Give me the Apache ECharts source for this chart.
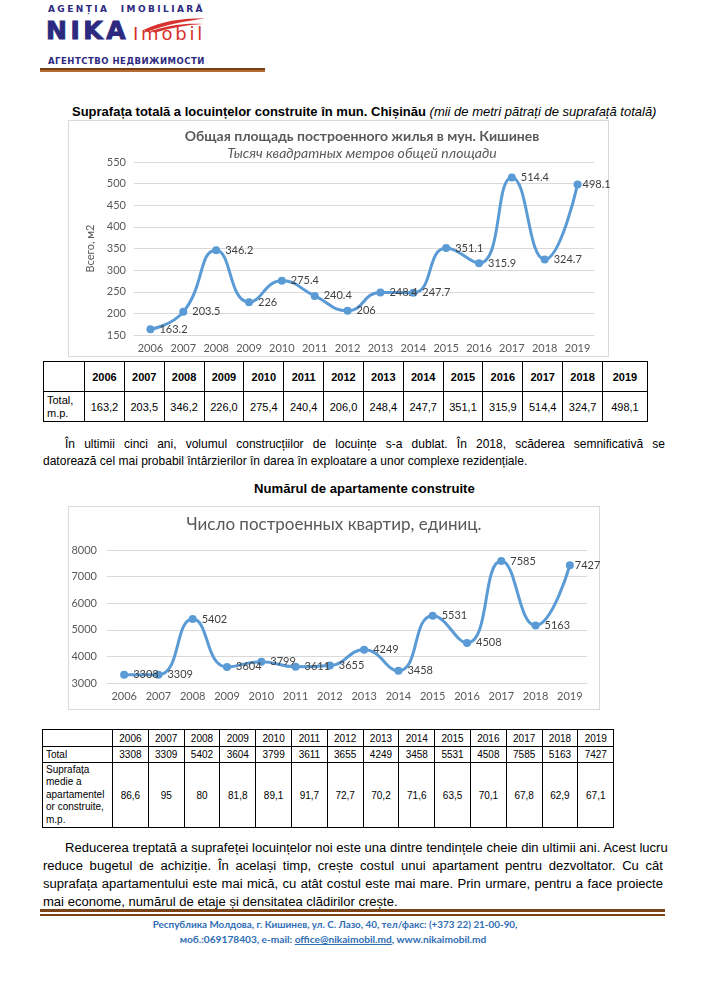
<!DOCTYPE html>
<html><head><meta charset="utf-8">
<script src="https://cdn.jsdelivr.net/npm/echarts@6/dist/echarts.min.js"></script>
<style>
html,body{margin:0;padding:0;background:#fff;}
body{width:707px;height:1000px;position:relative;overflow:hidden;font-family:"Liberation Sans",Arial,sans-serif;color:#000;}
.abs{position:absolute;white-space:nowrap;}
.navy{color:#2C2A80;}
.box{position:absolute;border:1px solid #D9D9D9;box-sizing:border-box;background:#fff;}
.chart{position:absolute;}
table{position:absolute;border-collapse:collapse;table-layout:fixed;}
td{border:1.3px solid #000;text-align:center;padding:0;vertical-align:middle;}
.para{position:absolute;left:43px;width:622px;font-size:12px;}
.para div{white-space:nowrap;text-align:justify;text-align-last:justify;}
.para div.last{text-align:left;text-align-last:left;}
.foot{position:absolute;font-family:Lato,"Open Sans",sans-serif;font-weight:bold;color:#2F6DB5;font-size:10px;white-space:nowrap;}
</style></head><body>

<!-- logo -->
<div class="abs navy fitls" data-w="157" style="left:48px;top:4px;font:bold 9px 'DejaVu Sans';word-spacing:6px;">AGENȚIA IMOBILIARĂ</div>
<div class="abs navy fitls" data-w="83" style="left:46px;top:16px;font:bold 25px 'DejaVu Sans';-webkit-text-stroke:1px #2C2A80;">NIKA</div>
<svg class="abs" style="left:141px;top:15px" width="68" height="18" viewBox="0 0 70 18">
  <path d="M3 15 C20 6 42 3 66 3 C45 6 25 10 6 17 Z" fill="#D6312D"/>
  <path d="M12 16 C28 10 46 8 64 9 C46 10 30 13 14 18 Z" fill="#D6312D"/>
</svg>
<div class="abs fitls" data-w="72" style="left:133px;top:23px;font:18px 'DejaVu Sans';color:#D6312D;">Imobil</div>
<div class="abs navy fitls" data-w="157" style="left:48px;top:56px;font:bold 8.5px 'DejaVu Sans';">АГЕНТСТВО НЕДВИЖИМОСТИ</div>
<div class="abs" style="left:40px;top:68px;width:225px;height:2px;background:#7A3E12;"></div>
<div class="abs" style="left:40px;top:70px;width:225px;height:2px;background:#B36D35;"></div>

<!-- heading 1 -->
<div class="abs fit" data-w="585" style="left:72px;top:104px;font-size:12px;"><b>Suprafața totală a locuințelor construite în mun. Chișinău</b> <i>(mii de metri pătrați de suprafață totală)</i></div>

<div class="box" style="left:68px;top:120px;width:541px;height:237px;"></div>
<div class="chart" id="c1" style="left:68px;top:120px;width:570px;height:237px;"></div>

<table id="t1" style="left:43px;top:361px;width:604px;font-size:11px;"></table>

<div class="para" id="p1" style="top:436px;line-height:17px;">
<div style="padding-left:22px;">În ultimii cinci ani, volumul construcțiilor de locuințe s-a dublat. În 2018, scăderea semnificativă se</div>
<div class="last" data-w="485">datorează cel mai probabil întârzierilor în darea în exploatare a unor complexe rezidențiale.</div>
</div>

<div class="abs fit" data-w="221" style="left:254px;top:481px;font-size:12px;font-weight:bold;">Numărul de apartamente construite</div>

<div class="box" style="left:68px;top:506px;width:532px;height:204px;"></div>
<div class="chart" id="c2" style="left:68px;top:506px;width:560px;height:204px;"></div>

<table id="t2" style="left:42px;top:729px;width:571px;font-size:10px;"></table>

<div class="para" id="p2" style="top:839px;line-height:18px;width:620px;">
<div style="padding-left:22px;">Reducerea treptată a suprafeței locuințelor noi este una dintre tendințele cheie din ultimii ani. Acest lucru</div>
<div>reduce bugetul de achiziție. În același timp, crește costul unui apartament pentru dezvoltator. Cu cât</div>
<div>suprafața apartamentului este mai mică, cu atât costul este mai mare. Prin urmare, pentru a face proiecte</div>
<div class="last" data-w="355">mai econome, numărul de etaje și densitatea clădirilor crește.</div>
</div>

<div class="abs" style="left:40px;top:909px;width:625px;height:3px;background:#7B4318;"></div>
<div class="abs" style="left:40px;top:914px;width:625px;height:1.5px;background:#7B4318;"></div>

<div class="foot fit" data-w="365" data-c="335" style="top:918px;">Республика Молдова, г. Кишинев, ул. С. Лазо, 40, тел/факс: (+373 22) 21-00-90,</div>
<div class="foot fit" data-w="307" data-c="333" style="top:933px;">моб.:069178403, e-mail: <u>office@nikaimobil.md</u>, www.nikaimobil.md</div>

<script>
// ---- data ----
const years = ['2006','2007','2008','2009','2010','2011','2012','2013','2014','2015','2016','2017','2018','2019'];
const totalArea = [163.2,203.5,346.2,226.0,275.4,240.4,206.0,248.4,247.7,351.1,315.9,514.4,324.7,498.1];
const flatsBuilt = [3308,3309,5402,3604,3799,3611,3655,4249,3458,5531,4508,7585,5163,7427];
const avgFlatArea = [86.6,95,80,81.8,89.1,91.7,72.7,70.2,71.6,63.5,70.1,67.8,62.9,67.1];

// ---- text fitting (layout only) ----
document.querySelectorAll('.fit').forEach(el=>{
  const w = +el.dataset.w;
  el.style.display='inline-block';
  const nw = el.getBoundingClientRect().width;
  const fs = parseFloat(getComputedStyle(el).fontSize);
  el.style.fontSize = (fs*w/nw)+'px';
  if (el.dataset.c) el.style.left = (+el.dataset.c - el.getBoundingClientRect().width/2)+'px';
});
document.querySelectorAll('.fitls').forEach(el=>{
  const w = +el.dataset.w;
  el.style.display='inline-block';
  const nw = el.getBoundingClientRect().width;
  const n = el.textContent.length;
  el.style.letterSpacing = ((w-nw)/n)+'px';
});
['p1','p2'].forEach(id=>{
  const p=document.getElementById(id);
  const last=p.querySelector('.last');
  const s=document.createElement('span');
  s.textContent=last.textContent; s.style.whiteSpace='nowrap';
  s.style.fontSize=getComputedStyle(p).fontSize;
  document.body.appendChild(s);
  const nw=s.getBoundingClientRect().width; s.remove();
  p.style.fontSize=(parseFloat(getComputedStyle(p).fontSize)*(+last.dataset.w)/nw)+'px';
});

// ---- tables ----
const fmt1 = v => v.toFixed(1).replace('.',',');
const fmt = v => String(v).replace('.',',');
(function(){
  const t=document.getElementById('t1');
  let h='<colgroup><col style="width:41px">'+years.map((y,i)=>'<col style="width:'+(i===years.length-1?45:39.85)+'px">').join('')+'</colgroup>';
  h+='<tr style="height:30px"><td></td>'+years.map(y=>'<td style="font-weight:bold">'+y+'</td>').join('')+'</tr>';
  h+='<tr style="height:30px"><td style="text-align:left;padding-left:3px;line-height:13px">Total,<br>m.p.</td>'+totalArea.map(v=>'<td>'+fmt1(v)+'</td>').join('')+'</tr>';
  t.innerHTML=h;
  const t2=document.getElementById('t2');
  let g='<colgroup><col style="width:70px">'+years.map(()=>'<col style="width:35.8px">').join('')+'</colgroup>';
  g+='<tr style="height:17px"><td></td>'+years.map(y=>'<td>'+y+'</td>').join('')+'</tr>';
  g+='<tr style="height:16px"><td style="text-align:left;padding-left:3px">Total</td>'+flatsBuilt.map(v=>'<td>'+v+'</td>').join('')+'</tr>';
  g+='<tr style="height:65px"><td style="text-align:left;padding-left:3px;line-height:12.5px">Suprafața<br>medie a<br>apartamentel<br>or construite,<br>m.p.</td>'+avgFlatArea.map(v=>'<td>'+fmt(v)+'</td>').join('')+'</tr>';
  t2.innerHTML=g;
})();

// ---- charts ----
const FF = 'Lato, "Open Sans", sans-serif';
const lineColor = '#5B9BD5';
function seriesOf(values){
  const last = values.length-1;
  return {
    type:'line', smooth:0.5, symbol:'circle', symbolSize:8,
    data: values.map((v,i)=> i===last ? {value:v, label:{distance:1}} : v),
    lineStyle:{color:lineColor,width:3}, itemStyle:{color:lineColor},
    label:{show:true, position:'right', distance:5, fontFamily:FF, fontSize:11, color:'#404040'}
  };
}
function xAxisOf(){
  return {type:'category', data:years, boundaryGap:true,
    axisLine:{lineStyle:{color:'#D9D9D9'}}, axisTick:{show:false},
    axisLabel:{color:'#595959', fontFamily:FF, fontSize:11, margin:8, interval:0}};
}
function yAxisOf(min,max,step,margin){
  return {type:'value', min:min, max:max, interval:step,
    axisLine:{show:false}, axisTick:{show:false},
    axisLabel:{color:'#595959', fontFamily:FF, fontSize:11, margin:margin, formatter:v=>String(v)},
    splitLine:{lineStyle:{color:'#D9D9D9'}}};
}
const c1 = echarts.init(document.getElementById('c1'), null, {renderer:'canvas'});
const y1 = yAxisOf(150,550,50,8);
Object.assign(y1,{name:'Всего, м2', nameLocation:'middle', nameGap:33,
  nameTextStyle:{color:'#595959', fontFamily:FF, fontSize:11}});
c1.setOption({
  animation:false,
  title:[
    {text:'Общая площадь построенного жилья в мун. Кишинев', left:294, top:9, textAlign:'center', padding:0,
      textStyle:{fontFamily:FF, fontSize:14, fontWeight:'bold', color:'#595959'}},
    {text:'Тысяч квадратных метров общей площади', left:294, top:26, textAlign:'center', padding:0,
      textStyle:{fontFamily:FF, fontSize:14, fontWeight:'normal', fontStyle:'italic', color:'#595959'}}
  ],
  grid:{left:66, right:44, top:42, bottom:22},
  xAxis:xAxisOf(),
  yAxis:y1,
  series:[seriesOf(totalArea)]
});
const c2 = echarts.init(document.getElementById('c2'), null, {renderer:'canvas'});
c2.setOption({
  animation:false,
  title:{text:'Число построенных квартир, единиц.', left:266, top:10, textAlign:'center', padding:0,
    textStyle:{fontFamily:FF, fontSize:17, fontWeight:'normal', color:'#595959'}},
  grid:{left:39, right:41, top:44, bottom:27},
  xAxis:xAxisOf(),
  yAxis:yAxisOf(3000,8000,1000,10),
  series:[seriesOf(flatsBuilt)]
});
</script>
</body></html>
